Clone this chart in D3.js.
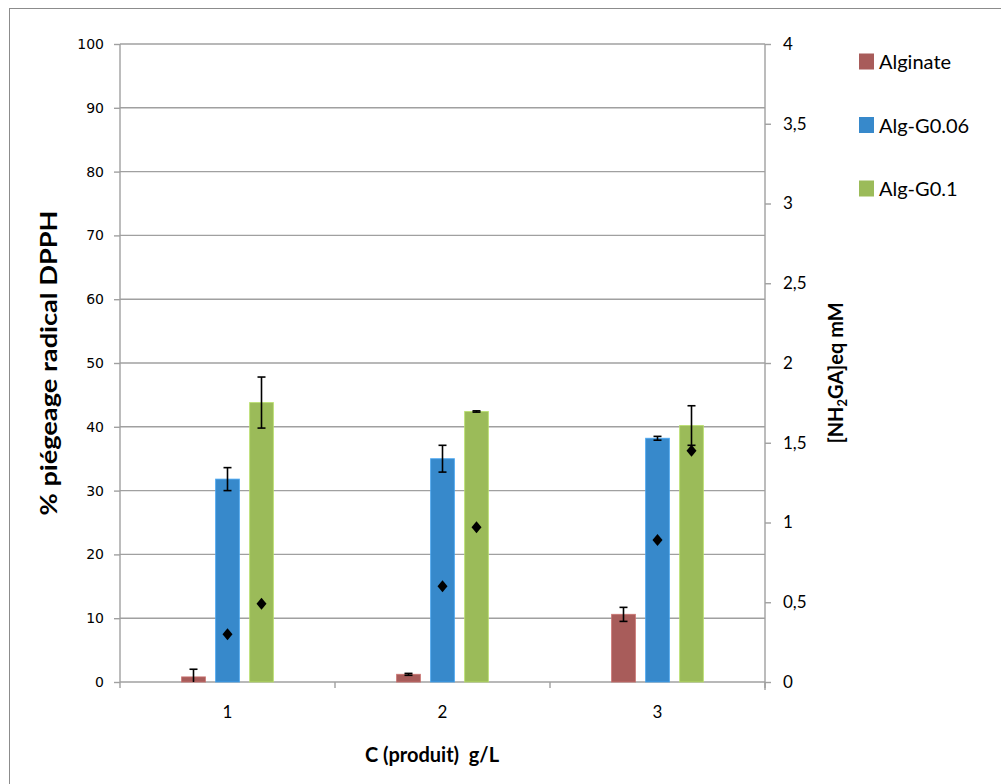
<!DOCTYPE html>
<html>
<head>
<meta charset="utf-8">
<script src="https://cdn.jsdelivr.net/npm/d3@7"></script>
<style>
  html, body { margin: 0; padding: 0; background: #fff; }
  svg { display: block; }
</style>
</head>
<body>
<svg id="chart" width="1001" height="784"></svg>
<script>
// ---- data ----
const categories = ["1", "2", "3"];
const seriesNames = ["Alginate", "Alg-G0.06", "Alg-G0.1"];
const alginate = [0.8, 1.2, 10.6];
const algG006 = [31.8, 35.0, 38.2];
const algG01 = [43.8, 42.4, 40.2];
const alginateErr = [1.2, 0.15, 1.1];
const algG006Err = [1.8, 2.1, 0.3];
const algG01Err = [4.0, 0.1, 3.1];
const nh2gaG006 = [0.30, 0.60, 0.89];
const nh2gaG01 = [0.49, 0.97, 1.45];
const leftTicks = [0, 10, 20, 30, 40, 50, 60, 70, 80, 90, 100];
const rightTicks = [0, 0.5, 1, 1.5, 2, 2.5, 3, 3.5, 4];
const colors = ["#A85C5A", "#3789CB", "#9BBB59"];

const values = [alginate, algG006, algG01];
const errs = [alginateErr, algG006Err, algG01Err];
const nh2 = [null, nh2gaG006, nh2gaG01];

const svg = d3.select("#chart");
const L = 120, R = 765, T = 44, B = 682;
const gridColor = "#A0A0A0";

// outer frame
svg.append("rect").attr("x", 9.5).attr("y", 8.5).attr("width", 1100).attr("height", 1000)
  .attr("fill", "none").attr("stroke", "#8c8c8c").attr("stroke-width", 1);

const y = d3.scaleLinear().domain([0, 100]).range([B, T]);
const y2 = d3.scaleLinear().domain([0, 4]).range([B, T]);
const x0 = d3.scaleBand().domain(categories).range([L, R]).padding(0);
const x1 = d3.scaleBand().domain(seriesNames)
  .range([x0.bandwidth() / 2 - 51, x0.bandwidth() / 2 + 51])
  .paddingInner(0.3).paddingOuter(0.15);

// gridlines
svg.append("g").selectAll("line").data(leftTicks.filter(d => d > 0)).join("line")
  .attr("x1", L).attr("x2", R).attr("y1", d => y(d)).attr("y2", d => y(d))
  .attr("stroke", gridColor).attr("stroke-width", 1.4);

// left axis
const gL = svg.append("g").attr("transform", `translate(${L},0)`)
  .call(d3.axisLeft(y).tickValues(leftTicks).tickSize(6).tickPadding(10).tickFormat(d3.format("d")));
gL.attr("font-size", null).attr("font-family", null);
gL.select(".domain").attr("stroke", gridColor).attr("stroke-width", 1.4).attr("d", `M-0,${T}V${B}`);
gL.selectAll(".tick line").attr("stroke", gridColor).attr("stroke-width", 1.4);
gL.selectAll(".tick text").style("font-family", "'DejaVu Sans', Verdana, sans-serif").style("font-size", "14px").attr("fill", "#000");

// right axis
const gR = svg.append("g").attr("transform", `translate(${R},0)`)
  .call(d3.axisRight(y2).tickValues(rightTicks).tickSize(6).tickPadding(12)
    .tickFormat(d => String(d).replace(".", ",")));
gR.attr("font-size", null).attr("font-family", null);
gR.select(".domain").attr("stroke", gridColor).attr("stroke-width", 1.4).attr("d", `M0,${T}V${B + 8}`);
gR.selectAll(".tick line").attr("stroke", gridColor).attr("stroke-width", 1.4);
gR.selectAll(".tick text").style("font-family", "Lato, sans-serif").style("font-size", "17px").attr("fill", "#000");

// x axis
svg.append("line").attr("x1", L).attr("x2", R).attr("y1", B).attr("y2", B)
  .attr("stroke", gridColor).attr("stroke-width", 1.6);
const bounds = categories.map(c => x0(c)).concat([x0(categories[categories.length - 1]) + x0.bandwidth()]);
svg.append("g").selectAll("line").data(bounds).join("line")
  .attr("x1", d => d).attr("x2", d => d).attr("y1", B).attr("y2", B + 6)
  .attr("stroke", gridColor).attr("stroke-width", 1.4);
svg.append("g").selectAll("text").data(categories).join("text")
  .attr("x", d => x0(d) + x0.bandwidth() / 2).attr("y", B + 36)
  .attr("text-anchor", "middle").style("font-family", "Lato, sans-serif").style("font-size", "17px")
  .attr("fill", "#000").text(d => d);

// bars
const rows = [];
categories.forEach((c, i) => seriesNames.forEach((s, j) => {
  rows.push({ c, s, j, v: values[j][i], e: errs[j][i], n: nh2[j] ? nh2[j][i] : null });
}));

svg.append("clipPath").attr("id", "plotclip").append("rect")
  .attr("x", L).attr("y", 0).attr("width", R - L).attr("height", B);

svg.append("g").selectAll("rect").data(rows).join("rect")
  .attr("x", d => x0(d.c) + x1(d.s)).attr("width", x1.bandwidth())
  .attr("y", d => y(d.v)).attr("height", d => B - y(d.v))
  .attr("fill", d => colors[d.j])
  .attr("stroke", d => d3.color(colors[d.j]).brighter(0.5)).attr("stroke-width", 1)
  .attr("stroke-opacity", 0.8);

// error bars
const eg = svg.append("g").attr("clip-path", "url(#plotclip)").attr("stroke", "#000").attr("stroke-width", 1.6);
rows.forEach(d => {
  const cx = x0(d.c) + x1(d.s) + x1.bandwidth() / 2;
  const yt = y(d.v + d.e), yb = y(d.v - d.e);
  eg.append("line").attr("x1", cx).attr("x2", cx).attr("y1", yt).attr("y2", yb);
  eg.append("line").attr("x1", cx - 4).attr("x2", cx + 4).attr("y1", yt).attr("y2", yt);
  eg.append("line").attr("x1", cx - 4).attr("x2", cx + 4).attr("y1", yb).attr("y2", yb);
});

// diamonds (right axis)
const diamond = { draw(ctx) { const w = 5, h = 6; ctx.moveTo(0, -h); ctx.lineTo(w, 0); ctx.lineTo(0, h); ctx.lineTo(-w, 0); ctx.closePath(); } };
svg.append("g").selectAll("path").data(rows.filter(d => d.n !== null)).join("path")
  .attr("transform", d => `translate(${x0(d.c) + x1(d.s) + x1.bandwidth() / 2},${y2(d.n)})`)
  .attr("d", d3.symbol().type(diamond).size(64)())
  .attr("fill", "#000");

// axis titles
svg.append("text").attr("transform", `translate(57,${(T + B) / 2}) rotate(-90)`)
  .attr("text-anchor", "middle").style("font-family", "Lato, sans-serif").style("font-weight", "bold")
  .style("font-size", "22px").attr("fill", "#000").attr("textLength", 305).attr("lengthAdjust", "spacingAndGlyphs")
  .text("% piégeage radical DPPH");

const rt = svg.append("text").attr("transform", `translate(843,${(T + B) / 2 + 10}) rotate(-90)`)
  .attr("text-anchor", "middle").style("font-family", "Lato, sans-serif").style("font-weight", "bold")
  .style("font-size", "20px").attr("fill", "#000");
rt.append("tspan").text("[NH");
rt.append("tspan").style("font-size", "13px").attr("dy", 4).text("2");
rt.append("tspan").attr("dy", -4).text("GA]eq mM");

svg.append("text").attr("x", 432).attr("y", 762).attr("text-anchor", "middle")
  .style("font-family", "Lato, sans-serif").style("font-weight", "bold").style("font-size", "20px")
  .style("white-space", "pre").attr("fill", "#000").text("C (produit)  g/L");

// legend
const lg = svg.append("g").selectAll("g").data(seriesNames).join("g")
  .attr("transform", (d, i) => `translate(859,${61.5 + i * 63.5})`);
lg.append("rect").attr("x", 0).attr("y", -8).attr("width", 15).attr("height", 16)
  .attr("fill", (d, i) => colors[i]);
lg.append("text").attr("x", 20).attr("y", 7.5).style("font-family", "Lato, sans-serif")
  .style("font-size", "20px").attr("fill", "#000").text(d => d);
</script>
</body>
</html>
